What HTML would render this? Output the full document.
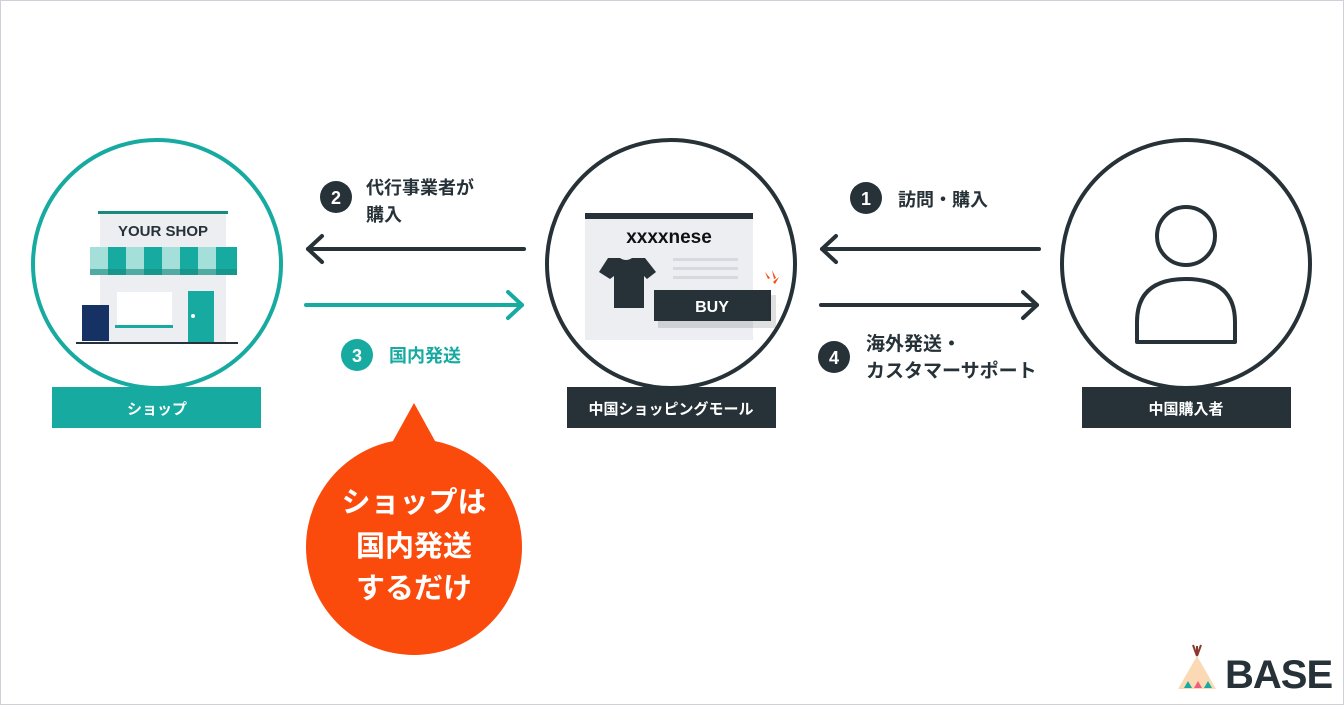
<!DOCTYPE html>
<html><head><meta charset="utf-8"><style>
html,body{margin:0;padding:0;background:#fff}
body{width:1344px;height:705px;overflow:hidden;font-family:"Liberation Sans","Noto Sans CJK JP",sans-serif}
</style></head><body>
<svg width="1344" height="705" viewBox="0 0 1344 705" xmlns="http://www.w3.org/2000/svg" font-family="Liberation Sans, Noto Sans CJK JP, sans-serif">
<rect x="0.5" y="0.5" width="1343" height="704" fill="#fff" stroke="#d0d0d8"/>
<circle cx="157" cy="264" r="124" fill="#fff" stroke="#17aaa0" stroke-width="4"/>
<rect x="98" y="211" width="130" height="3" fill="#17897f"/>
<rect x="100" y="214" width="126" height="130" fill="#eceef2"/>
<text x="163" y="236" font-size="15" font-weight="bold" fill="#263238" text-anchor="middle">YOUR SHOP</text>
<rect x="90" y="247" width="147" height="28" fill="#a5dfda"/>
<rect x="108" y="247" width="18" height="28" fill="#17aaa0"/>
<rect x="144" y="247" width="18" height="28" fill="#17aaa0"/>
<rect x="180" y="247" width="18" height="28" fill="#17aaa0"/>
<rect x="216" y="247" width="21" height="28" fill="#17aaa0"/>
<rect x="90" y="269" width="147" height="6" fill="#17897f" opacity="0.6"/>
<rect x="117" y="292" width="55" height="33" fill="#fff"/>
<rect x="115" y="325" width="58" height="3" fill="#17aaa0"/>
<rect x="188" y="291" width="26" height="53" fill="#17aaa0"/>
<circle cx="193" cy="316" r="2" fill="#fff"/>
<rect x="82" y="305" width="27" height="36" fill="#163163"/>
<rect x="76" y="342" width="162" height="2" fill="#263238"/>
<rect x="52" y="387" width="209" height="41" fill="#17aaa0"/>
<text x="157" y="414" font-size="15" font-weight="bold" fill="#fff" text-anchor="middle">ショップ</text>

<circle cx="671" cy="264" r="124" fill="#fff" stroke="#263238" stroke-width="4"/>
<rect x="585" y="213" width="168" height="127" fill="#eceef2"/>
<rect x="585" y="213" width="168" height="6" fill="#263238"/>
<text x="669" y="243" font-size="19" font-weight="bold" fill="#111" text-anchor="middle">xxxxnese</text>
<rect x="673" y="258" width="65" height="3" fill="#d7d9de"/>
<rect x="673" y="267" width="65" height="3" fill="#d7d9de"/>
<rect x="673" y="276" width="65" height="3" fill="#d7d9de"/>
<path d="M608 258 L620 258 Q626 262 632 258 L645 258 L656 272 L647 279 L644 276 L644 308 L614 308 L614 276 L610 279 L599 272 Z" fill="#263238"/>
<rect x="656" y="292" width="118" height="33" fill="#000" opacity="0.12" transform="translate(2,3)"/>
<rect x="654" y="290" width="117" height="31" fill="#263238"/>
<text x="712" y="312" font-size="16" font-weight="bold" fill="#fff" text-anchor="middle">BUY</text>
<path d="M765 272 l3 7 l2 -1 z M772 270 l2 9 l2 -1 z M779 277 l-6 5 l2 2 z" fill="#fa4a0c"/>
<rect x="567" y="387" width="209" height="41" fill="#263238"/>
<text x="671" y="414" font-size="15" font-weight="bold" fill="#fff" text-anchor="middle">中国ショッピングモール</text>

<circle cx="1186" cy="264" r="124" fill="#fff" stroke="#263238" stroke-width="4"/>
<circle cx="1186" cy="236" r="29" fill="none" stroke="#263238" stroke-width="4"/>
<path d="M1137 342 L1137 322 Q1137 279 1186 279 Q1235 279 1235 322 L1235 342 Z" fill="none" stroke="#263238" stroke-width="4" stroke-linejoin="round"/>
<rect x="1082" y="387" width="209" height="41" fill="#263238"/>
<text x="1186" y="414" font-size="15" font-weight="bold" fill="#fff" text-anchor="middle">中国購入者</text>

<g stroke="#263238" stroke-width="4" fill="none" stroke-linecap="round" stroke-linejoin="round">
<line x1="524" y1="249" x2="308" y2="249"/><polyline points="322,236 308,249 322,262"/>
<line x1="1039" y1="249" x2="822" y2="249"/><polyline points="836,236 822,249 836,262"/>
<line x1="821" y1="305" x2="1037" y2="305"/><polyline points="1023,292 1037,305 1023,318"/>
</g>
<g stroke="#17aaa0" stroke-width="4" fill="none" stroke-linecap="round" stroke-linejoin="round">
<line x1="306" y1="305" x2="522" y2="305"/><polyline points="508,292 522,305 508,318"/>
</g>
<circle cx="336" cy="197" r="16" fill="#263238"/>
<text x="336" y="204" font-size="18" font-weight="bold" fill="#fff" text-anchor="middle">2</text>
<text x="366" y="194" font-size="18" font-weight="bold" fill="#263238">代行事業者が</text>
<text x="366" y="221" font-size="18" font-weight="bold" fill="#263238">購入</text>
<circle cx="357" cy="355" r="16" fill="#17aaa0"/>
<text x="357" y="362" font-size="18" font-weight="bold" fill="#fff" text-anchor="middle">3</text>
<text x="389" y="362" font-size="18" font-weight="bold" fill="#17aaa0">国内発送</text>
<circle cx="866" cy="198" r="16" fill="#263238"/>
<text x="866" y="205" font-size="18" font-weight="bold" fill="#fff" text-anchor="middle">1</text>
<text x="898" y="206" font-size="18" font-weight="bold" fill="#263238">訪問・購入</text>
<circle cx="834" cy="357" r="16" fill="#263238"/>
<text x="834" y="364" font-size="18" font-weight="bold" fill="#fff" text-anchor="middle">4</text>
<text x="866" y="350" font-size="19" font-weight="bold" fill="#263238">海外発送・</text>
<text x="866" y="377" font-size="19" font-weight="bold" fill="#263238">カスタマーサポート</text>

<path d="M414 403 L440 450 L388 450 Z" fill="#fa4a0c"/>
<circle cx="414" cy="547" r="108" fill="#fa4a0c"/>
<g font-size="29" font-weight="bold" fill="#fff" text-anchor="middle">
<text x="414" y="512">ショップは</text>
<text x="414" y="556">国内発送</text>
<text x="414" y="598">するだけ</text>
</g>

<path d="M1197 656 L1216 689 L1178 689 Z" fill="#fbd9b5"/>
<g stroke="#8a3a2c" stroke-width="2" fill="none"><line x1="1197" y1="656" x2="1197" y2="646"/><line x1="1197" y1="656" x2="1193" y2="645"/><line x1="1197" y1="656" x2="1201" y2="645"/></g>
<path d="M1184 688 l4 -7 l4 7z" fill="#17aaa0"/>
<path d="M1194 688 l4 -7 l4 7z" fill="#ef5f7a"/>
<path d="M1204 688 l4 -7 l4 7z" fill="#17aaa0"/>
<text x="1225" y="688" font-size="40" font-weight="bold" fill="#263238" letter-spacing="-1">BASE</text>
</svg>
</body></html>
